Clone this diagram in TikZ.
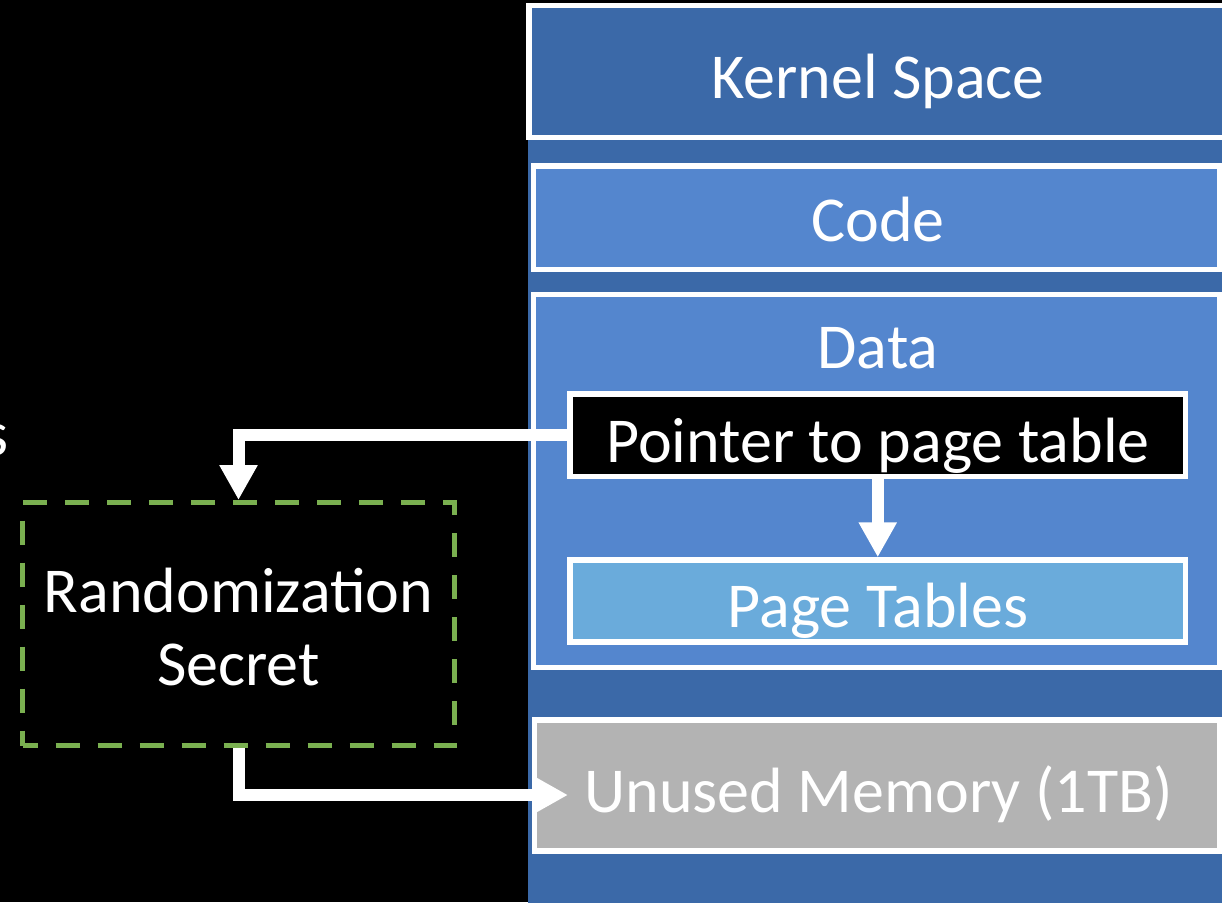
\documentclass[tikz,border=0pt]{standalone}
\usepackage{fontspec}
\setmainfont{Carlito}
\usetikzlibrary{arrows.meta,calc}
\definecolor{colbg}{HTML}{3B69A8}
\definecolor{midblue}{HTML}{5486CE}
\definecolor{lightblue}{HTML}{6AABDB}
\definecolor{grayfill}{HTML}{B3B3B3}
\definecolor{dashgreen}{HTML}{7AB050}
\tikzset{
  box/.style={draw=white, line width=5.5pt, inner sep=0pt, rectangle},
  txt/.style={text=white, font=\fontsize{64}{77}\selectfont, inner sep=0pt},
  arr/.style={draw=white, line width=12pt, -{Triangle[length=35pt,width=36pt]}},
}
\begin{document}
\begin{tikzpicture}[x=1pt,y=-1pt]
\useasboundingbox (0,0) rectangle (1222,902);
\fill[black] (0,0) rectangle (1222,902);
\clip (0,0) rectangle (1222,902);
% memory column
\fill[colbg] (528,3) rectangle (1230,910);
% boxes
\node[box, fill=colbg, minimum width=711pt, minimum height=132pt] (kern) at (884.5,71.5) {};
\node[box, fill=midblue, minimum width=686pt, minimum height=103.5pt] (code) at (876.5,217.75) {};
\node[box, fill=midblue, minimum width=686pt, minimum height=373pt] (data) at (876.5,481) {};
\node[box, fill=black, minimum width=615.5pt, minimum height=82.5pt] (ptr) at (877.75,435.25) {};
\node[box, fill=lightblue, minimum width=615.5pt, minimum height=82pt] (pt) at (877.75,601) {};
\node[box, fill=grayfill, minimum width=685.5pt, minimum height=131pt] (unused) at (877.25,785.5) {};
\node[draw=dashgreen, line width=5pt, dash pattern=on 24pt off 18pt, dash phase=9pt, inner sep=0pt,
      minimum width=432pt, minimum height=243pt] (sec) at (238.5,624) {};
% texts
\node[txt, anchor=base] (kt) at (878,98) {Kernel Space};
\node[txt, anchor=base] (ct) at (878,241) {Code};
\node[txt, anchor=base] (dt) at (878,368) {Data};
\node[txt, anchor=base] (ptrt) at (878,462) {Pointer to page table};
\node[txt, anchor=base] (ptt) at (878,627) {Page Tables};
\node[txt, anchor=base] (ut) at (878.5,812) {Unused Memory (1TB)};
\node[txt, anchor=base] (st1) at (238.5,612) {Randomization};
\node[txt, anchor=base] (st2) at (238.5,685) {Secret};
\node[txt, anchor=base east] (cut) at (9,455) {s};
% connectors
\coordinate (uin) at (568,795);
\draw[arr] (ptr.west) -| (sec.north);
\draw[arr] (sec.south) |- (uin);
\draw[arr] (ptr.south) -- (pt.north);
\end{tikzpicture}
\end{document}
